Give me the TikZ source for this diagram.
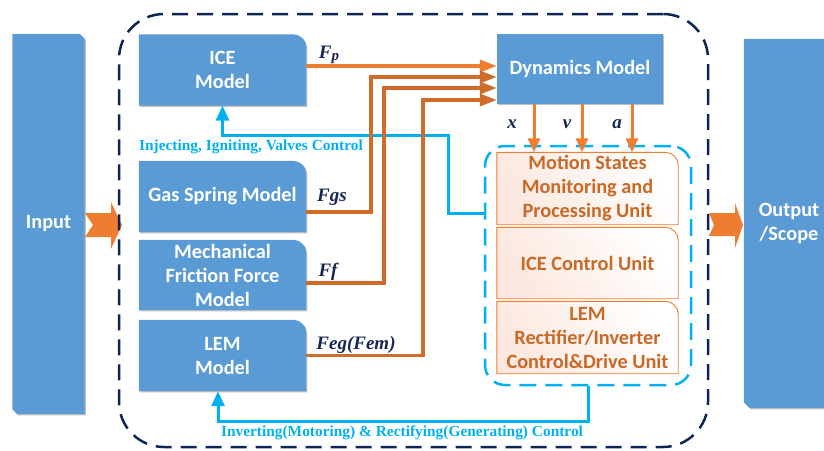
\documentclass[tikz,border=0pt]{standalone}
\usepackage{fontspec}
\setmainfont{Liberation Serif}
\newfontfamily\calib{Carlito}
\usetikzlibrary{arrows.meta,backgrounds,calc,shadows}
\definecolor{boxblue}{RGB}{91,155,213}
\definecolor{orA}{RGB}{237,125,49}
\definecolor{orB}{RGB}{208,108,42}
\definecolor{navy}{RGB}{14,36,84}
\definecolor{cyanL}{RGB}{0,176,240}
\definecolor{txtor}{RGB}{200,105,40}
\definecolor{labnavy}{RGB}{22,38,82}
\definecolor{pinkf}{RGB}{252,232,222}
\newcommand\boxfont{\calib\bfseries\fontsize{20.3}{24}\selectfont}
\newcommand\labfont{\bfseries\itshape\fontsize{19}{22}\selectfont}
\newcommand\ctfont{\bfseries\fontsize{15.4}{17}\selectfont}
% box with only the top-right corner rounded
\newcommand\trbox[3]{\path[#2] (#1.south west) -- (#1.north west) -- ([xshift=-#3]#1.north east) arc[start angle=90,end angle=0,radius=#3] -- (#1.south east) -- cycle;}
\tikzset{
  mbox/.style={minimum width=167pt, minimum height=71pt, inner sep=0pt, align=center, text=white, font=\boxfont},
  obox/.style={minimum width=181pt, inner sep=0pt, align=center, text=txtor, font=\boxfont},
  bluefill/.style={fill=boxblue, drop shadow={shadow xshift=1.2pt, shadow yshift=-1.2pt, opacity=0.25, fill=black}},
  orfill/.style={left color=pinkf, right color=white, shading angle=120, draw=orA, line width=0.9pt},
  oline/.style={draw=orA, line width=3.5pt, -{Triangle[length=17pt,width=12pt]}},
  oline2/.style={draw=orB, line width=3.5pt, -{Triangle[length=17pt,width=12pt]}},
  vline/.style={draw=orA, line width=3pt, -{Triangle[length=14pt,width=12pt]}},
  cline/.style={draw=cyanL, line width=3pt, -{Triangle[length=15pt,width=13pt]}},
  flab/.style={text=labnavy, font=\labfont, inner sep=0pt},
  ctext/.style={text=cyanL, font=\ctfont, inner sep=0pt},
  blockarrow/.style={fill=orA},
  navydash/.style={draw=navy, line width=2.5pt, dash pattern=on 16pt off 9pt, rounded corners=45pt},
  cyandash/.style={draw=cyanL, line width=2.5pt, dash pattern=on 17pt off 9pt, rounded corners=20pt},
}
\begin{document}
\begin{tikzpicture}[x=1pt,y=-1pt]
\useasboundingbox (0,0) rectangle (824,450);

% main nodes
\node[mbox, minimum width=72pt, minimum height=380pt] (inp) at (48.5,224) {Input};
\node[mbox, minimum width=90pt, minimum height=369pt] (out) at (789,223.5) {Output\\/Scope};
\node[mbox] (ice) at (222.5,70) {ICE\\Model};
\node[mbox] (gas) at (222.5,196.5) {Gas Spring Model};
\node[mbox, minimum height=70pt] (mech) at (222.5,275) {Mechanical\\Friction Force\\Model};
\node[mbox] (lem) at (222.5,355.5) {LEM\\Model};
\node[mbox, minimum width=166pt, minimum height=70pt] (dyn) at (580,69) {Dynamics Model};
\node[obox, minimum height=72pt] (mot) at (587.5,188.5) {Motion States\\Monitoring and\\Processing Unit};
\node[obox, minimum height=71pt] (icu) at (587.5,263) {ICE Control Unit};
\node[obox, minimum height=72pt] (lcu) at (587.5,337.5) {LEM\\Rectifier/Inverter\\Control\&Drive Unit};

% containers
\node[navydash, minimum width=589pt, minimum height=433pt, inner sep=0pt] (outer) at (413.5,230.5) {};
\node[cyandash, minimum width=206pt, minimum height=239pt, inner sep=0pt] (cz) at (588,265.5) {};

\begin{scope}[on background layer]
  % input / output boxes (chamfered)
  \path[bluefill] (inp.south west) ++(0,-5) -- (inp.north west) -- ([xshift=-5pt]inp.north east) -- ([yshift=-5pt]inp.north east) -- (inp.south east) -- ([xshift=5pt]inp.south west) -- cycle;
  \path[bluefill] ([yshift=6pt]out.south west) -- (out.north west) -- (out.north east) -- (out.south east) -- ([xshift=6pt]out.south west) -- cycle;
  \trbox{ice}{bluefill}{13pt}
  \trbox{gas}{bluefill}{13pt}
  \trbox{mech}{bluefill}{13pt}
  \trbox{lem}{bluefill}{13pt}
  \path[bluefill] (dyn.south west) rectangle (dyn.north east);
  \trbox{mot}{orfill}{13pt}
  \trbox{icu}{orfill}{13pt}
  \trbox{lcu}{orfill}{13pt}
  % block arrows
  \path[blockarrow] (85,213) -- (111,213) -- (111,202) -- (122,225) -- (111,249) -- (111,237) -- (85,237) -- (93,225) -- cycle;
  \path[blockarrow] (709,213) -- (735,213) -- (735,203) -- (743,225) -- (735,248) -- (735,236) -- (709,236) -- (714,225) -- cycle;
\end{scope}

% control connectors (cyan)
\coordinate (cb1) at (448,135);
\draw[cline] ([yshift=52.5pt]cz.west) -| (cb1) -| (ice.south);
\coordinate (cb2) at (588,421);
\draw[cline] (cz.south) -- (cb2) -| ([xshift=-4.5pt]lem.south);
\node[ctext] at (251,147) {Injecting, Igniting, Valves Control};
\node[ctext] at (402,433) {Inverting(Motoring) \& Rectifying(Generating) Control};

% force connectors (orange)
\draw[oline] ([yshift=4pt]ice.east) -- ([yshift=4pt]ice.east -| dyn.west);
\draw[oline2] ([yshift=-15.5pt]gas.east) -| ([xshift=-126pt,yshift=-8pt]dyn.west) -- ([yshift=-8pt]dyn.west);
\draw[oline2] ([yshift=-8pt]mech.east) -| ([xshift=-113pt,yshift=-19pt]dyn.west) -- ([yshift=-19pt]dyn.west);
\draw[oline2] (lem.east) -| ([xshift=-74pt,yshift=-31pt]dyn.west) -- ([yshift=-31pt]dyn.west);

\node[flab] at (329,55) {F\raisebox{-2.5pt}{\fontsize{15}{15}\selectfont p}};
\node[flab] at (332,197) {Fgs};
\node[flab] at (328,272) {Ff};
\node[flab] at (356,345) {Feg(Fem)};

% state connectors
\draw[vline] ([xshift=-46pt]dyn.south) -- ([xshift=-46pt]dyn.south |- mot.north);
\draw[vline] ([xshift=2pt]dyn.south) -- ([xshift=2pt]dyn.south |- mot.north);
\draw[vline] ([xshift=52pt]dyn.south) -- ([xshift=52pt]dyn.south |- mot.north);
\node[flab] at (512,124) {x};
\node[flab] at (567,124) {v};
\node[flab] at (617,124) {a};
\end{tikzpicture}
\end{document}
